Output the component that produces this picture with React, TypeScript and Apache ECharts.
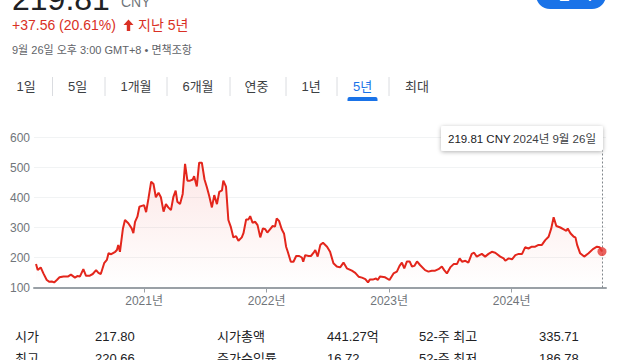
import React, { useEffect, useRef } from 'react';
import * as echarts from 'echarts';

const dates = [
  '2020-02-14','2020-02-19','2020-02-28','2020-03-07','2020-03-17','2020-03-25','2020-04-01','2020-04-08','2020-04-16','2020-04-24',
  '2020-05-06','2020-05-20','2020-05-28','2020-06-03','2020-06-09','2020-06-16','2020-06-24','2020-07-04','2020-07-12','2020-07-22',
  '2020-08-01','2020-08-11','2020-08-18','2020-08-25','2020-09-04','2020-09-12','2020-09-17','2020-09-25','2020-10-07','2020-10-12',
  '2020-10-16','2020-10-21','2020-10-30','2020-11-05','2020-11-15','2020-11-25','2020-11-30','2020-12-05','2020-12-12','2020-12-18',
  '2020-12-25','2021-01-01','2021-01-07','2021-01-14','2021-01-22','2021-01-29','2021-02-05','2021-02-13','2021-02-20','2021-02-28',
  '2021-03-07','2021-03-14','2021-03-22','2021-03-29','2021-04-05','2021-04-10','2021-04-18','2021-04-26','2021-05-03','2021-05-10',
  '2021-05-18','2021-05-26','2021-05-30','2021-06-07','2021-06-14','2021-06-22','2021-06-30','2021-07-07','2021-07-14','2021-07-22',
  '2021-07-29','2021-08-06','2021-08-13','2021-08-21','2021-08-25','2021-09-02','2021-09-09','2021-09-16','2021-09-24','2021-10-02',
  '2021-10-09','2021-10-19','2021-10-24','2021-11-01','2021-11-08','2021-11-13','2021-11-20','2021-11-28','2021-12-05','2021-12-13',
  '2021-12-21','2021-12-28','2022-01-03','2022-01-11','2022-01-19','2022-01-26','2022-01-31','2022-02-07','2022-02-15','2022-02-22',
  '2022-02-28','2022-03-05','2022-03-14','2022-03-22','2022-03-30','2022-04-08','2022-04-16','2022-04-20','2022-04-26','2022-05-06',
  '2022-05-13','2022-05-21','2022-05-26','2022-06-02','2022-06-10','2022-06-18','2022-06-30','2022-07-09','2022-07-19','2022-07-29',
  '2022-08-08','2022-08-18','2022-08-28','2022-09-12','2022-09-22','2022-10-02','2022-10-12','2022-10-22','2022-10-30','2022-11-05',
  '2022-11-15','2022-11-23','2022-11-28','2022-12-05','2022-12-20','2023-01-02','2023-01-14','2023-01-24','2023-02-01','2023-02-08',
  '2023-02-15','2023-02-23','2023-03-03','2023-03-10','2023-03-17','2023-03-25','2023-04-03','2023-04-18','2023-04-28','2023-05-08',
  '2023-05-18','2023-05-28','2023-06-07','2023-06-14','2023-06-22','2023-07-02','2023-07-12','2023-07-22','2023-07-30','2023-08-06',
  '2023-08-16','2023-08-25','2023-09-04','2023-09-11','2023-09-19','2023-09-27','2023-10-04','2023-10-14','2023-10-24','2023-11-03',
  '2023-11-13','2023-11-28','2023-12-08','2023-12-13','2023-12-23','2024-01-02','2024-01-12','2024-01-22','2024-02-01','2024-02-10',
  '2024-02-20','2024-03-01','2024-03-11','2024-03-21','2024-03-31','2024-04-10','2024-04-20','2024-04-28','2024-05-05','2024-05-13',
  '2024-05-25','2024-06-04','2024-06-12','2024-06-16','2024-06-24','2024-07-04','2024-07-09','2024-07-14','2024-07-23','2024-08-04',
  '2024-08-17','2024-08-30','2024-09-11','2024-09-19','2024-09-26',
];

const prices = [
  178,158,167,147,125,119,120,117,125,134,
  137,137,143,138,133,138,137,161,139,139,
  145,158,149,145,181,192,214,211,219,225,
  242,219,297,325,314,297,281,319,336,369,
  372,374,351,397,453,445,401,416,401,353,
  378,367,358,401,423,386,378,412,512,456,
  456,460,471,437,516,516,460,434,405,367,
  408,378,419,424,456,436,325,303,267,271,
  256,267,281,327,327,338,316,319,308,267,
  297,294,283,294,305,303,330,322,294,279,
  236,219,186,186,205,205,200,186,208,205,
  205,216,225,203,242,249,236,219,181,170,
  167,183,164,156,149,136,133,128,117,127,
  127,130,125,137,134,125,147,153,172,183,
  164,187,187,170,172,187,175,158,153,156,
  156,161,170,158,147,167,178,178,197,186,
  189,183,212,216,203,208,212,203,212,219,
  216,203,197,189,197,194,208,212,212,234,
  230,236,236,242,242,258,269,297,334,305,
  300,294,289,297,281,269,267,242,214,203,
  214,228,236,234,219.81,
];

const yearTicks = ['2021-01-01', '2022-01-01', '2023-01-01', '2024-01-01'];
const yMin = 100;
const yMax = 600;
const yStep = 100;
const axisStart = '2020-02-08';
const axisEnd = '2024-10-08';

const currency = 'CNY';
const changeText = '+37.56 (20.61%)';
const periodText = '지난 5년';
const stampText = '9월 26일 오후 3:00 GMT+8 • 면책조항';
const followText = '+ 팔로우';
const tabs = ['1일', '5일', '1개월', '6개월', '연중', '1년', '5년', '최대'];
const activeTab = '5년';
const statLabelsRow1 = ['시가', '시가총액', '52-주 최고'];
const statValuesRow1 = ['217.80', '441.27억', '335.71'];
const statLabelsRow2 = ['최고', '주가수익률', '52-주 최저'];
const statValuesRow2 = ['220.66', '16.72', '186.78'];

const RED = '#e3261c';
const FONT = 'Arial, "Liberation Sans", "Noto Sans CJK KR", sans-serif';

function toTs(s: string) {
  const [y, m, d] = s.split('-').map(Number);
  return Date.UTC(y, m - 1, d);
}

export default function App() {
  const ref = useRef<HTMLDivElement>(null);

  useEffect(() => {
    if (!ref.current) return;
    const chart = echarts.init(ref.current, undefined, { renderer: 'svg' });
    const lastDate = dates[dates.length - 1];
    const lastPrice = prices[prices.length - 1];
    const [ly, lm, ld] = lastDate.split('-').map(Number);
    const tipValue = `${lastPrice.toFixed(2)} ${currency}`;
    const tipDate = `${ly}년 ${lm}월 ${ld}일`;
    const yearTs = yearTicks.map(toTs);

    const tabCenters = [26, 77.5, 136, 198, 256.5, 311, 362.5, 417];
    const seps = [52.5, 105, 167, 230, 286, 337, 389];
    const colX = [[15, 95], [217, 327], [419, 539]];

    const graphics: any[] = [];
    graphics.push({ type: 'text', x: 12, y: -1, style: { text: lastPrice.toFixed(2), font: `32px ${FONT}`, fill: '#202124', verticalAlign: 'middle' } });
    graphics.push({ type: 'text', x: 121, y: 2, style: { text: currency, font: `14px ${FONT}`, fill: '#70757a', verticalAlign: 'middle' } });
    graphics.push({ type: 'rect', shape: { x: 536, y: -20, width: 70, height: 29, r: 14 }, style: { fill: '#1a73e8' } });
    graphics.push({ type: 'text', x: 571, y: -6, style: { text: followText, font: `bold 14px ${FONT}`, fill: '#ffffff', align: 'center', verticalAlign: 'middle' } });
    graphics.push({ type: 'text', x: 12, y: 25, style: { text: changeText, font: `14px ${FONT}`, fill: '#d93025', verticalAlign: 'middle' } });
    graphics.push({ type: 'polygon', shape: { points: [[128.5, 19.5], [123.5, 25], [126.8, 25], [126.8, 31], [130.2, 31], [130.2, 25], [133.5, 25]] }, style: { fill: '#d93025' } });
    graphics.push({ type: 'text', x: 138, y: 25, style: { text: periodText, font: `14px ${FONT}`, fill: '#d93025', verticalAlign: 'middle' } });
    graphics.push({ type: 'text', x: 12, y: 50, style: { text: stampText, font: `11px ${FONT}`, fill: '#5f6368', verticalAlign: 'middle' } });
    tabs.forEach((t, i) => {
      const active = t === activeTab;
      graphics.push({ type: 'text', x: tabCenters[i], y: 86, style: { text: t, font: `13px ${FONT}`, fill: active ? '#1a73e8' : '#3c4043', align: 'center', verticalAlign: 'middle' } });
      if (active) {
        graphics.push({ type: 'rect', shape: { x: tabCenters[i] - 15, y: 97, width: 30, height: 4, r: [2, 2, 0, 0] }, style: { fill: '#1a73e8' } });
      }
    });
    seps.forEach((x) => {
      graphics.push({ type: 'line', shape: { x1: x, y1: 77, x2: x, y2: 96 }, style: { stroke: '#dadce0', lineWidth: 1 } });
    });
    graphics.push({ type: 'rect', z: 100, shape: { x: 441, y: 126, width: 162, height: 25, r: 2 }, style: { fill: '#ffffff', shadowBlur: 4, shadowOffsetY: 1, shadowColor: 'rgba(0,0,0,0.3)' } });
    graphics.push({ type: 'text', z: 101, x: 448, y: 138.5, style: { text: tipValue, font: `11.5px ${FONT}`, fill: '#202124', verticalAlign: 'middle' } });
    graphics.push({ type: 'text', z: 101, x: 596, y: 138.5, style: { text: tipDate, font: `11.5px ${FONT}`, fill: '#3c4043', align: 'right', verticalAlign: 'middle' } });
    const rows: any[] = [[statLabelsRow1, statValuesRow1, 336], [statLabelsRow2, statValuesRow2, 358]];
    rows.forEach(([labels, values, y]) => {
      labels.forEach((l: string, i: number) => {
        graphics.push({ type: 'text', x: colX[i][0], y, style: { text: l, font: `13px ${FONT}`, fill: '#202124', verticalAlign: 'middle' } });
        graphics.push({ type: 'text', x: colX[i][1], y, style: { text: values[i], font: `13px ${FONT}`, fill: '#202124', verticalAlign: 'middle' } });
      });
    });

    chart.setOption({
      animation: false,
      backgroundColor: '#ffffff',
      textStyle: { fontFamily: FONT },
      grid: { left: 34, right: 34, top: 137.5, bottom: 72.5, containLabel: false },
      xAxis: {
        type: 'value',
        min: toTs(axisStart),
        max: toTs(axisEnd),
        axisLine: { show: true, lineStyle: { color: '#9aa0a6', width: 2 } },
        axisTick: { show: true, customValues: yearTs, length: 5, lineStyle: { color: '#9aa0a6', width: 1 } },
        axisLabel: {
          customValues: yearTs,
          formatter: (v: number) => `${new Date(v).getUTCFullYear()}년`,
          color: '#70757a',
          fontSize: 12,
          margin: 7,
          fontFamily: FONT,
        },
        splitLine: { show: false },
      },
      yAxis: {
        type: 'value',
        min: yMin,
        max: yMax,
        interval: yStep,
        axisLine: { show: false },
        axisTick: { show: false },
        axisLabel: { color: '#70757a', fontSize: 12, margin: 4, fontFamily: FONT },
        splitLine: { lineStyle: { color: '#f1f3f4', width: 1 } },
      },
      series: [
        {
          type: 'line',
          data: dates.map((d, i) => [toTs(d), prices[i]]),
          symbol: 'none',
          showSymbol: false,
          lineStyle: { color: RED, width: 2 },
          areaStyle: {
            color: new echarts.graphic.LinearGradient(0, 0, 0, 1, [
              { offset: 0, color: 'rgba(230,40,30,0.16)' },
              { offset: 1, color: 'rgba(230,40,30,0)' },
            ]),
          },
          markLine: {
            symbol: 'none',
            silent: true,
            label: { show: false },
            lineStyle: { type: [2, 2], color: '#80868b', width: 1 },
            data: [{ xAxis: toTs(lastDate) }],
          },
          z: 2,
        },
        {
          type: 'scatter',
          data: [[toTs(lastDate), lastPrice]],
          symbolSize: 9,
          itemStyle: { color: '#e53935' },
          z: 5,
        },
      ],
      graphic: graphics,
    });
    return () => chart.dispose();
  }, []);

  return <div ref={ref} style={{ position: 'fixed', left: 0, top: 0, width: 640, height: 360 }} />;
}
